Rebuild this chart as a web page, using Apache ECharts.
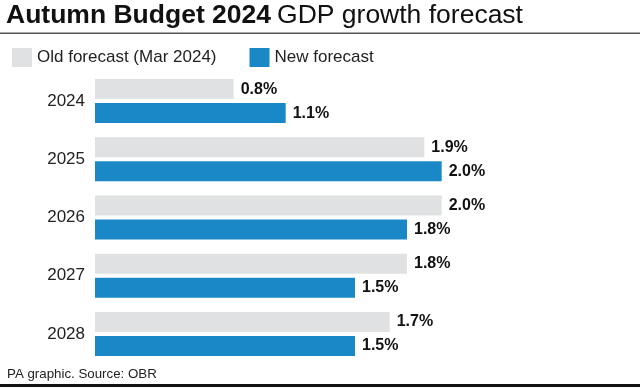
<!DOCTYPE html>
<html><head><meta charset="utf-8">
<script src="https://cdn.jsdelivr.net/npm/echarts@6/dist/echarts.min.js"></script>
<style>html,body{margin:0;padding:0;background:#fff}#c{width:640px;height:390px}</style>
</head><body><div id="c"></div>
<script>
const categories = ['2024','2025','2026','2027','2028'];
const oldForecast = [0.8, 1.9, 2.0, 1.8, 1.7];
const newForecast = [1.1, 2.0, 1.8, 1.5, 1.5];
const seriesNames = ['Old forecast (Mar 2024)', 'New forecast'];

const FONT = '"Liberation Sans", Arial, sans-serif';
const chart = echarts.init(document.getElementById('c'));
const lbl = {
  show: true, position: 'right', distance: 7,
  formatter: p => p.value.toFixed(1) + '%',
  color: '#111', fontFamily: FONT, fontWeight: 'bold', fontSize: 16
};
chart.setOption({
  animation: false,
  textStyle: { fontFamily: FONT },
  graphic: [
    { type: 'text', left: 6, top: 2, style: {
      rich: {
        b: { fontFamily: FONT, fontWeight: 'bold', fontSize: 26.5, fill: '#111' },
        r: { fontFamily: FONT, fontSize: 26.5, fill: '#111', padding: [0, 0, 0, 6] }
      },
      text: '{b|Autumn Budget 2024}{r|GDP growth forecast}'
    }},
    { type: 'rect', shape: { x: 0, y: 32.5, width: 640, height: 1.6 }, style: { fill: '#555' } },
    { type: 'text', left: 7, top: 368, style: { text: 'PA graphic. Source: OBR', fontFamily: FONT, fontSize: 13.3, fill: '#222' } },
    { type: 'rect', shape: { x: 0, y: 384, width: 640, height: 3 }, style: { fill: '#111' } }
  ],
  legend: {
    left: 7, top: 43, itemWidth: 20, itemHeight: 19, itemGap: 33, icon: 'rect',
    textStyle: { fontFamily: FONT, fontSize: 17, color: '#222' },
    data: seriesNames
  },
  grid: { left: 95, right: 25, top: 72, height: 291, containLabel: false },
  xAxis: { type: 'value', min: 0, max: 3.0, show: false },
  yAxis: {
    type: 'category', data: categories, inverse: true,
    axisLine: { show: false }, axisTick: { show: false },
    axisLabel: { fontFamily: FONT, fontSize: 17, color: '#222', margin: 10 }
  },
  series: [
    { name: seriesNames[0], type: 'bar', data: oldForecast, barWidth: 20, barGap: '20%',
      itemStyle: { color: '#e0e1e2' }, label: lbl },
    { name: seriesNames[1], type: 'bar', data: newForecast, barWidth: 20, barGap: '20%',
      itemStyle: { color: '#1a87c6' }, label: lbl }
  ]
});
</script></body></html>
